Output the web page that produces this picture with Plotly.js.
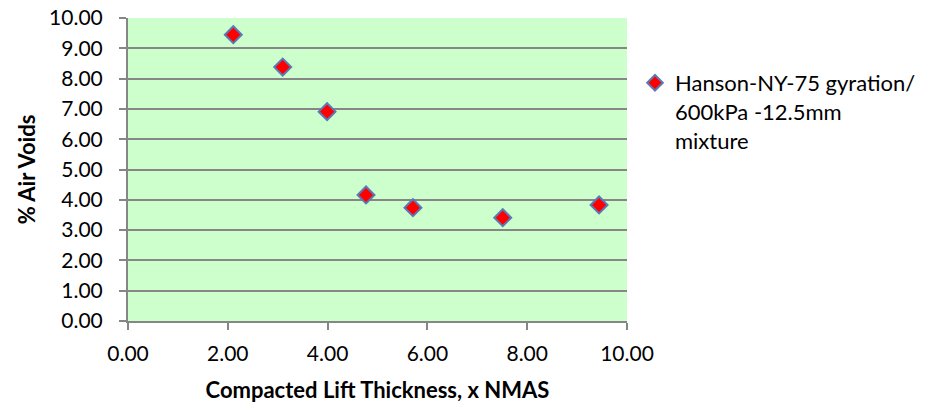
<!DOCTYPE html>
<html>
<head>
<meta charset="utf-8">
<script src="https://cdn.plot.ly/plotly-3.0.1.min.js"></script>
<style>html,body{margin:0;padding:0;background:#fff;}#chart{width:932px;height:411px;}</style>
</head>
<body>
<div id="chart"></div>
<script>
var thickness = [2.11, 3.10, 3.99, 4.77, 5.71, 7.51, 9.44];
var airVoids = [9.45, 8.38, 6.91, 4.16, 3.74, 3.41, 3.83];
var seriesName = "Hanson-NY-75 gyration/<br>600kPa -12.5mm<br>mixture";
var xTitle = "Compacted Lift Thickness, x NMAS";
var yTitle = "% Air Voids";

var font = "Lato, 'Open Sans', sans-serif";
var trace = {
  x: thickness, y: airVoids, type: "scatter", mode: "markers", name: seriesName,
  marker: {symbol: "diamond", size: 13, color: "#FF0000", line: {color: "#5B79B5", width: 2}}
};
var layout = {
  width: 932, height: 411,
  margin: {l: 128, r: 304, t: 18, b: 90},
  paper_bgcolor: "#ffffff", plot_bgcolor: "#CCFFCC",
  font: {family: font, size: 21, color: "#000"},
  showlegend: true,
  legend: {x: 1.014, y: 0.855, xanchor: "left", yanchor: "top", valign: "top",
           font: {family: font, size: 22, color: "#000"}, bgcolor: "rgba(0,0,0,0)", itemsizing: "constant"},
  xaxis: {
    range: [0, 10], dtick: 2, tick0: 0, tickformat: ".2f",
    showgrid: false, zeroline: false,
    showline: true, linecolor: "#868686", linewidth: 2,
    ticks: "outside", ticklen: 7, tickwidth: 2, tickcolor: "#868686",
    ticklabelstandoff: 6,
    tickfont: {family: font, size: 21, color: "#000"},
    title: {text: "<b>" + xTitle + "</b>", font: {family: font, size: 22, color: "#000"}, standoff: 18}
  },
  yaxis: {
    range: [0, 10], dtick: 1, tick0: 0, tickformat: ".2f",
    showgrid: true, gridcolor: "#868686", gridwidth: 2, zeroline: false,
    showline: true, linecolor: "#868686", linewidth: 2,
    ticks: "outside", ticklen: 7, tickwidth: 2, tickcolor: "#868686",
    ticklabelstandoff: 12,
    tickfont: {family: font, size: 21, color: "#000"},
    title: {text: "<b>" + yTitle + "</b>", font: {family: font, size: 22, color: "#000"}, standoff: 7}
  }
};
Plotly.newPlot("chart", [trace], layout, {displayModeBar: false, staticPlot: true});
</script>
</body>
</html>
